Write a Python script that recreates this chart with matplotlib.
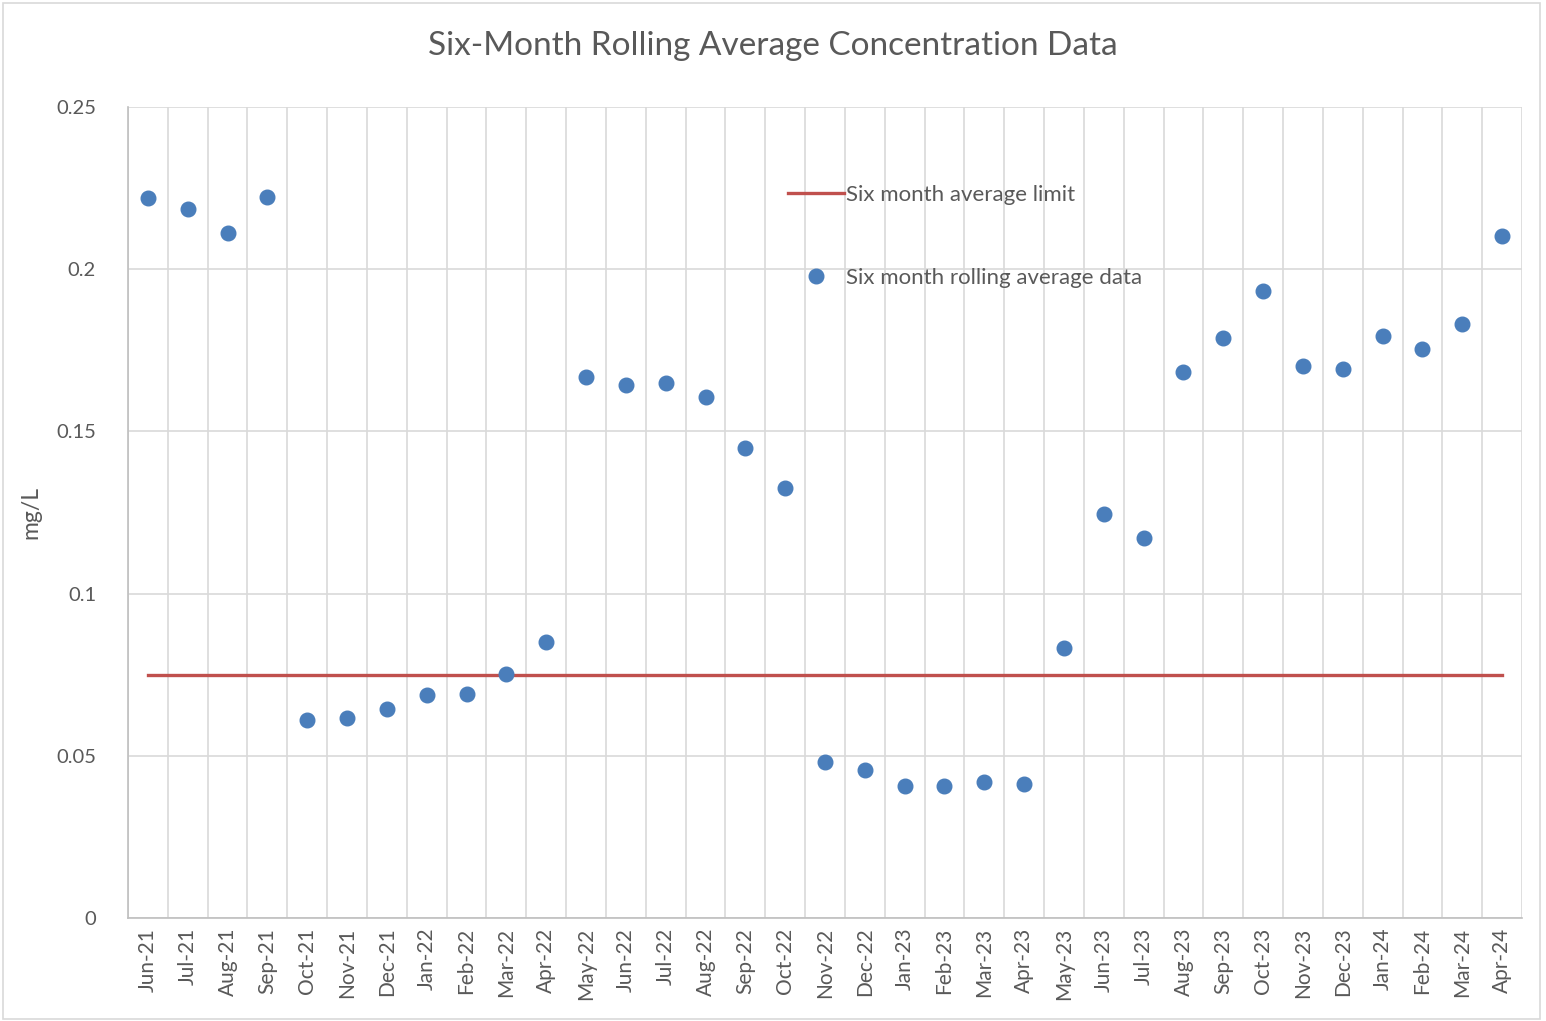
import matplotlib
matplotlib.use("Agg")
import matplotlib.pyplot as plt
from matplotlib.patches import Rectangle

plt.rcParams['font.family'] = ['Lato', 'DejaVu Sans']

months = ["Jun-21", "Jul-21", "Aug-21", "Sep-21", "Oct-21", "Nov-21", "Dec-21",
          "Jan-22", "Feb-22", "Mar-22", "Apr-22", "May-22", "Jun-22", "Jul-22",
          "Aug-22", "Sep-22", "Oct-22", "Nov-22", "Dec-22", "Jan-23", "Feb-23",
          "Mar-23", "Apr-23", "May-23", "Jun-23", "Jul-23", "Aug-23", "Sep-23",
          "Oct-23", "Nov-23", "Dec-23", "Jan-24", "Feb-24", "Mar-24", "Apr-24"]
rolling_avg = [0.2219, 0.2186, 0.2112, 0.2223, 0.0610, 0.0617, 0.0644,
               0.0687, 0.0690, 0.0752, 0.0851, 0.1668, 0.1643, 0.1649,
               0.1606, 0.1449, 0.1325, 0.0481, 0.0456, 0.0407, 0.0407,
               0.0419, 0.0413, 0.0832, 0.1245, 0.1171, 0.1683, 0.1788,
               0.1933, 0.1702, 0.1692, 0.1794, 0.1754, 0.1831, 0.2102]
limit_value = 0.075
limit = [limit_value] * len(months)
yticks = [0, 0.05, 0.1, 0.15, 0.2, 0.25]
yticklabels = ["0", "0.05", "0.1", "0.15", "0.2", "0.25"]

text_color = "#595959"
grid_color = "#d9d9d9"

fig = plt.figure(figsize=(15.46, 10.21), dpi=100)
fig.patches.append(Rectangle((0.002, 0.002), 0.994, 0.995, transform=fig.transFigure,
                             fill=False, edgecolor=grid_color, linewidth=1.2))
ax = fig.add_axes([128/1546, 1-918/1021, (1522-128)/1546, (918-107)/1021])

x = list(range(len(months)))
ax.plot(x, limit, color="#C0504D", linewidth=2.4, zorder=3, label="Six month average limit")
ax.plot(x, rolling_avg, linestyle="none", marker="o", markersize=10.5,
        color="#4A7EBB", zorder=4, label="Six month rolling average data")

ax.set_xlim(-0.5, len(months) - 0.5)
ax.set_ylim(0, 0.25)
ax.set_yticks(yticks)
ax.set_yticklabels(yticklabels)
ax.set_xticks(x)
ax.set_xticklabels(months, rotation=90)
ax.set_xticks([i - 0.5 for i in range(len(months) + 1)], minor=True)
ax.grid(axis="y", which="major", color=grid_color, linewidth=1.2, zorder=0)
ax.grid(axis="x", which="minor", color=grid_color, linewidth=1.2, zorder=0)
ax.grid(axis="x", which="major", visible=False)
ax.tick_params(axis="both", which="both", length=0, labelcolor=text_color)
ax.tick_params(axis="y", pad=23, labelsize=14.5)
ax.tick_params(axis="x", pad=7, labelsize=15)
for s in ["top", "right"]:
    ax.spines[s].set_visible(False)
for s in ["left", "bottom"]:
    ax.spines[s].set_color("#bfbfbf")
    ax.spines[s].set_linewidth(1.2)

ax.set_ylabel("mg/L", fontsize=16.5, color=text_color)
ax.yaxis.set_label_coords(-0.062, 0.5)

fig.text(0.5, 1-46/1021, "Six-Month Rolling Average Concentration Data",
         ha="center", va="center", fontsize=24, color=text_color)

leg = ax.legend(loc="upper left", bbox_to_anchor=(788/1546, 1-185/1021),
                bbox_transform=fig.transFigure, frameon=False, fontsize=16,
                handlelength=2.5, handletextpad=0.1, labelspacing=2.82,
                borderaxespad=0, borderpad=0)
for t in leg.get_texts():
    t.set_color(text_color)

fig.savefig("out.png", dpi=100)
